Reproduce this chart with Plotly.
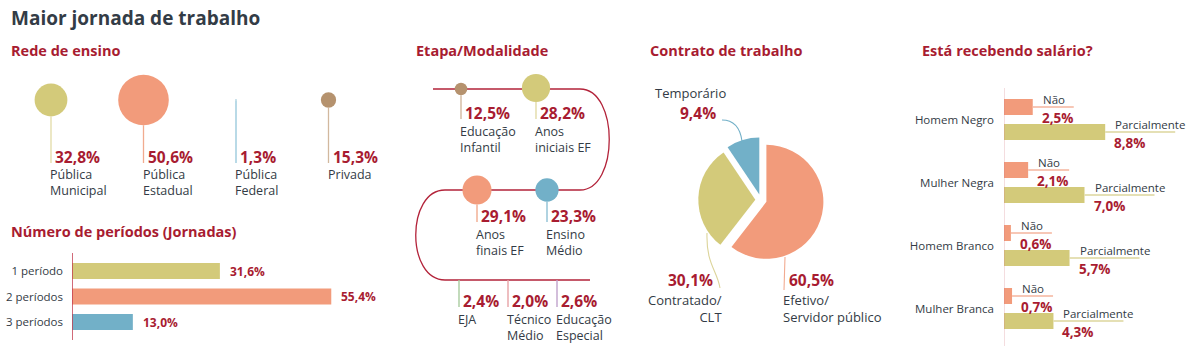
import plotly.graph_objects as go

W, H = 1189, 350

# ---------------- data ----------------
rede_labels = ["Pública<br>Municipal", "Pública<br>Estadual", "Pública<br>Federal", "Privada"]
rede_values = [32.8, 50.6, 1.3, 15.3]

periodos_labels = ["1 período", "2 períodos", "3 períodos"]
periodos_values = [31.6, 55.4, 13.0]

etapa_labels = ["Educação<br>Infantil", "Anos<br>iniciais EF", "Anos<br>finais EF", "Ensino<br>Médio",
                "EJA", "Técnico<br>Médio", "Educação<br>Especial"]
etapa_values = [12.5, 28.2, 29.1, 23.3, 2.4, 2.0, 2.6]

contrato_labels = ["Efetivo/<br>Servidor público", "Contratado/<br>CLT", "Temporário"]
contrato_values = [60.5, 30.1, 9.4]

salario_grupos = ["Homem Negro", "Mulher Negra", "Homem Branco", "Mulher Branca"]
salario_nao = [2.5, 2.1, 0.6, 0.7]
salario_parcial = [8.8, 7.0, 5.7, 4.3]

# ---------------- styles ----------------
FONT = "Open Sans"
RED = "#a81c31"
INK = "#333b45"
OLIVE, SALMON, BLUE, TAN = "#d3ca7a", "#f29b7b", "#72b0c8", "#b5926e"
LINE_RED = "#b3233a"


def fx(p):
    return p / W


def fy(p):
    return 1 - p / H


def pct(v):
    return f"{v:.1f}%".replace(".", ",")


fig = go.Figure()
annotations = []
shapes = []


def text(x, y, s, size=12.5, color=INK, bold=False, xanchor="left", yanchor="middle",
         xref="x9", yref="y9", align="left", xshift=0, yshift=0):
    annotations.append(dict(
        x=x, y=y, xref=xref, yref=yref, text=s, showarrow=False,
        xanchor=xanchor, yanchor=yanchor, align=align, xshift=xshift, yshift=yshift,
        borderpad=0, borderwidth=0,
        font=dict(family=FONT, size=size, color=color, weight="bold" if bold else "normal"),
    ))


def seg(x0, y0, x1, y1, color, width=1.3, xref="x9", yref="y9", layer="above", **kw):
    shapes.append(dict(type="line", x0=x0, y0=y0, x1=x1, y1=y1, xref=xref, yref=yref,
                       line=dict(color=color, width=width), layer=layer, **kw))


# ---------------- headings ----------------
text(11, 18, "Maior jornada de trabalho", 19, "#333c46", True)
text(11, 50, "Rede de ensino", 14.5, RED, True)
text(11, 231, "Número de períodos (Jornadas)", 14.5, RED, True)
text(416, 50, "Etapa/Modalidade", 14.5, RED, True)
text(650, 50, "Contrato de trabalho", 14.5, RED, True)
text(922, 50, "Está recebendo salário?", 14.5, RED, True)

# ---------------- Rede de ensino (bubbles on stems) ----------------
rede_colors = [OLIVE, SALMON, BLUE, TAN]
rede_stems = ["#e2dba6", "#f1ab8f", "#a8d1e1", "#d2b89e"]
REDE_Y, REDE_STEM_END = 100, 163
rede_idx = list(range(len(rede_values)))
fig.add_trace(go.Scatter(
    x=rede_idx, y=[REDE_Y] * len(rede_values), mode="markers", xaxis="x", yaxis="y",
    marker=dict(size=rede_values, sizemode="diameter", color=rede_colors, opacity=1,
                line=dict(width=0)),
    hoverinfo="skip", showlegend=False,
))
for i, (lab, v) in enumerate(zip(rede_labels, rede_values)):
    seg(i, REDE_Y + v / 2, i, REDE_STEM_END, rede_stems[i], 1.6 if v < 5 else 1.3, xref="x", yref="y")
    text(i, REDE_STEM_END - 6, pct(v), 15.5, RED, True, xref="x", yref="y", xshift=4)
    text(i, REDE_STEM_END + 3, lab, 12.5, INK, xref="x", yref="y", yanchor="top", xshift=-1)

# ---------------- Número de períodos (bars) ----------------
periodos_colors = [OLIVE, SALMON, BLUE]
fig.add_trace(go.Bar(
    x=periodos_values, y=periodos_labels, orientation="h", xaxis="x2", yaxis="y2",
    marker=dict(color=periodos_colors, line=dict(width=0)), width=0.63,
    hoverinfo="skip", showlegend=False,
))
for lab, v in zip(periodos_labels, periodos_values):
    text(v, lab, pct(v), 12, RED, True, xref="x2", yref="y2", xshift=10)
seg(0, 253, 0, 340, "#c23a4d", 1.5, xref="x2", yref="y9")

# ---------------- Etapa/Modalidade (serpentine) ----------------
shapes.append(dict(
    type="path", xref="x9", yref="y9", layer="below",
    path="M 433 89 H 580 C 619 89 619 190 580 190 H 445 C 406 190 406 280 445 280 H 590",
    line=dict(color=LINE_RED, width=1.3),
))
etapa_slots = [(461, 89), (536, 88), (477, 190), (547, 190), (459, 280), (508, 280), (557, 280)]
etapa_stem_end = [119, 119, 222, 222, 307, 307, 307]
etapa_colors = [TAN, OLIVE, SALMON, BLUE, "#a9cc9f", "#e7a3a6", "#c0a3cc"]
etapa_stems = ["#d2b89e", "#e2dba6", "#f1ab8f", "#8fc0d4", "#a9cc9f", "#e7a3a6", "#c0a3cc"]
fig.add_trace(go.Scatter(
    x=[p[0] for p in etapa_slots[:4]], y=[p[1] for p in etapa_slots[:4]],
    mode="markers", xaxis="x9", yaxis="y9",
    marker=dict(size=etapa_values[:4], sizemode="diameter", color=etapa_colors[:4], opacity=1,
                line=dict(width=0)),
    hoverinfo="skip", showlegend=False,
))
for i, (lab, v) in enumerate(zip(etapa_labels, etapa_values)):
    cx, cy = etapa_slots[i]
    top = cy + v / 2 if i < 4 else cy
    end = etapa_stem_end[i]
    seg(cx, top, cx, end, etapa_stems[i], 1.4)
    text(cx, end - 6, pct(v), 15.5, RED, True, xshift=4)
    text(cx, end + 4, lab, 12.5, INK, yanchor="top", xshift=-1)

# ---------------- Contrato de trabalho (pie) ----------------
PIE_CX, PIE_CY, PIE_HALF = 761, 200, 62.7
fig.add_trace(go.Pie(
    values=contrato_values, labels=contrato_labels, sort=False, direction="clockwise", rotation=0,
    pull=[0.1, 0.1, 0.1], marker=dict(colors=[SALMON, OLIVE, BLUE], line=dict(width=0)),
    textinfo="none", hoverinfo="skip", showlegend=False,
    domain=dict(x=[fx(PIE_CX - PIE_HALF), fx(PIE_CX + PIE_HALF)],
                y=[fy(PIE_CY + PIE_HALF), fy(PIE_CY - PIE_HALF)]),
))
text(690, 93, contrato_labels[2], 13, INK, xanchor="center")
text(698, 113, pct(contrato_values[2]), 15.5, RED, True, xanchor="center")
shapes.append(dict(type="path", xref="x9", yref="y9", path="M 722 120 Q 739 120 742 141",
                   line=dict(color=BLUE, width=1.1)))
text(713, 280, pct(contrato_values[1]), 15.5, RED, True, xanchor="right")
text(722, 291, contrato_labels[1], 13, INK, xanchor="right", yanchor="top", align="right")
shapes.append(dict(type="path", xref="x9", yref="y9", path="M 707 233 C 706 264 717 270 720 288",
                   line=dict(color="#dcd49a", width=1.1)))
text(789, 280, pct(contrato_values[0]), 15.5, RED, True)
text(783, 291, contrato_labels[0], 13, INK, yanchor="top")
seg(785, 257, 784, 290, "#f2ab91", 1.1)

# ---------------- Está recebendo salário? (paired bars) ----------------
BAR_W = 16 / 63
HALF_SLOT = 0.1985
fig.add_trace(go.Bar(
    x=salario_nao, y=salario_grupos, orientation="h", xaxis="x3", yaxis="y3",
    width=BAR_W, offset=-HALF_SLOT - BAR_W / 2, marker=dict(color=SALMON, line=dict(width=0)),
    hoverinfo="skip", showlegend=False,
))
fig.add_trace(go.Bar(
    x=salario_parcial, y=salario_grupos, orientation="h", xaxis="x3", yaxis="y3",
    width=BAR_W, offset=HALF_SLOT - BAR_W / 2, marker=dict(color=OLIVE, line=dict(width=0)),
    hoverinfo="skip", showlegend=False,
))
for i, g in enumerate(salario_grupos):
    for v, off, name, length, lcol in [
        (salario_nao[i], -HALF_SLOT, "Não", 41, "#f5b59e"),
        (salario_parcial[i], HALF_SLOT, "Parcialmente", 70, "#ddd69c"),
    ]:
        yy = i + off
        shapes.append(dict(type="line", xref="x3", yref="y3", xsizemode="pixel", xanchor=v,
                           x0=0, x1=length, y0=yy, y1=yy, line=dict(color=lcol, width=1.3)))
        text(v, yy, name, 11.5, INK, xref="x3", yref="y3", xshift=10, yanchor="bottom", yshift=0)
        text(v, yy, pct(v), 13.5, RED, True, xref="x3", yref="y3", xshift=9, yanchor="top", yshift=-2)
shapes.append(dict(type="line", xref="x3", yref="y9", xsizemode="pixel", xanchor=0,
                   x0=-1, x1=-1, y0=88, y1=346, line=dict(color="#d27781", width=2.5)))

# ---------------- layout ----------------
hidden = dict(visible=False, showgrid=False, zeroline=False, fixedrange=True)
cat_axis = dict(type="category", showgrid=False, zeroline=False, showline=False, ticks="",
                fixedrange=True, tickfont=dict(family=FONT, size=11.5, color=INK))

fig.update_layout(
    width=W, height=H, autosize=False,
    margin=dict(l=0, r=0, t=0, b=0, pad=0),
    paper_bgcolor="white", plot_bgcolor="rgba(0,0,0,0)",
    barmode="overlay",
    xaxis=dict(domain=[fx(4.75), fx(374.75)], range=[-0.5, 3.5], anchor="y", **hidden),
    yaxis=dict(domain=[0, 1], range=[H, 0], anchor="x", **hidden),
    xaxis2=dict(domain=[fx(72), fx(400)], range=[0, 328 / 4.68], anchor="y2", **hidden),
    yaxis2=dict(domain=[fy(334.75), fy(258.25)], range=[2.5, -0.5], anchor="x2",
                categoryarray=periodos_labels, categoryorder="array", ticklabelstandoff=8, **cat_axis),
    xaxis3=dict(domain=[fx(1004), 1.0], range=[0, 185 / 11.5], anchor="y3", **hidden),
    yaxis3=dict(domain=[fy(340), fy(88)], range=[3.5, -0.5], anchor="x3",
                categoryarray=salario_grupos, categoryorder="array", ticklabelstandoff=9, **cat_axis),
    xaxis9=dict(domain=[0, 1], range=[0, W], anchor="y9", **hidden),
    yaxis9=dict(domain=[0, 1], range=[H, 0], anchor="x9", **hidden),
    annotations=annotations,
    shapes=shapes,
    hovermode=False,
)

fig.write_html("out.html", config={"displayModeBar": False, "staticPlot": True})
